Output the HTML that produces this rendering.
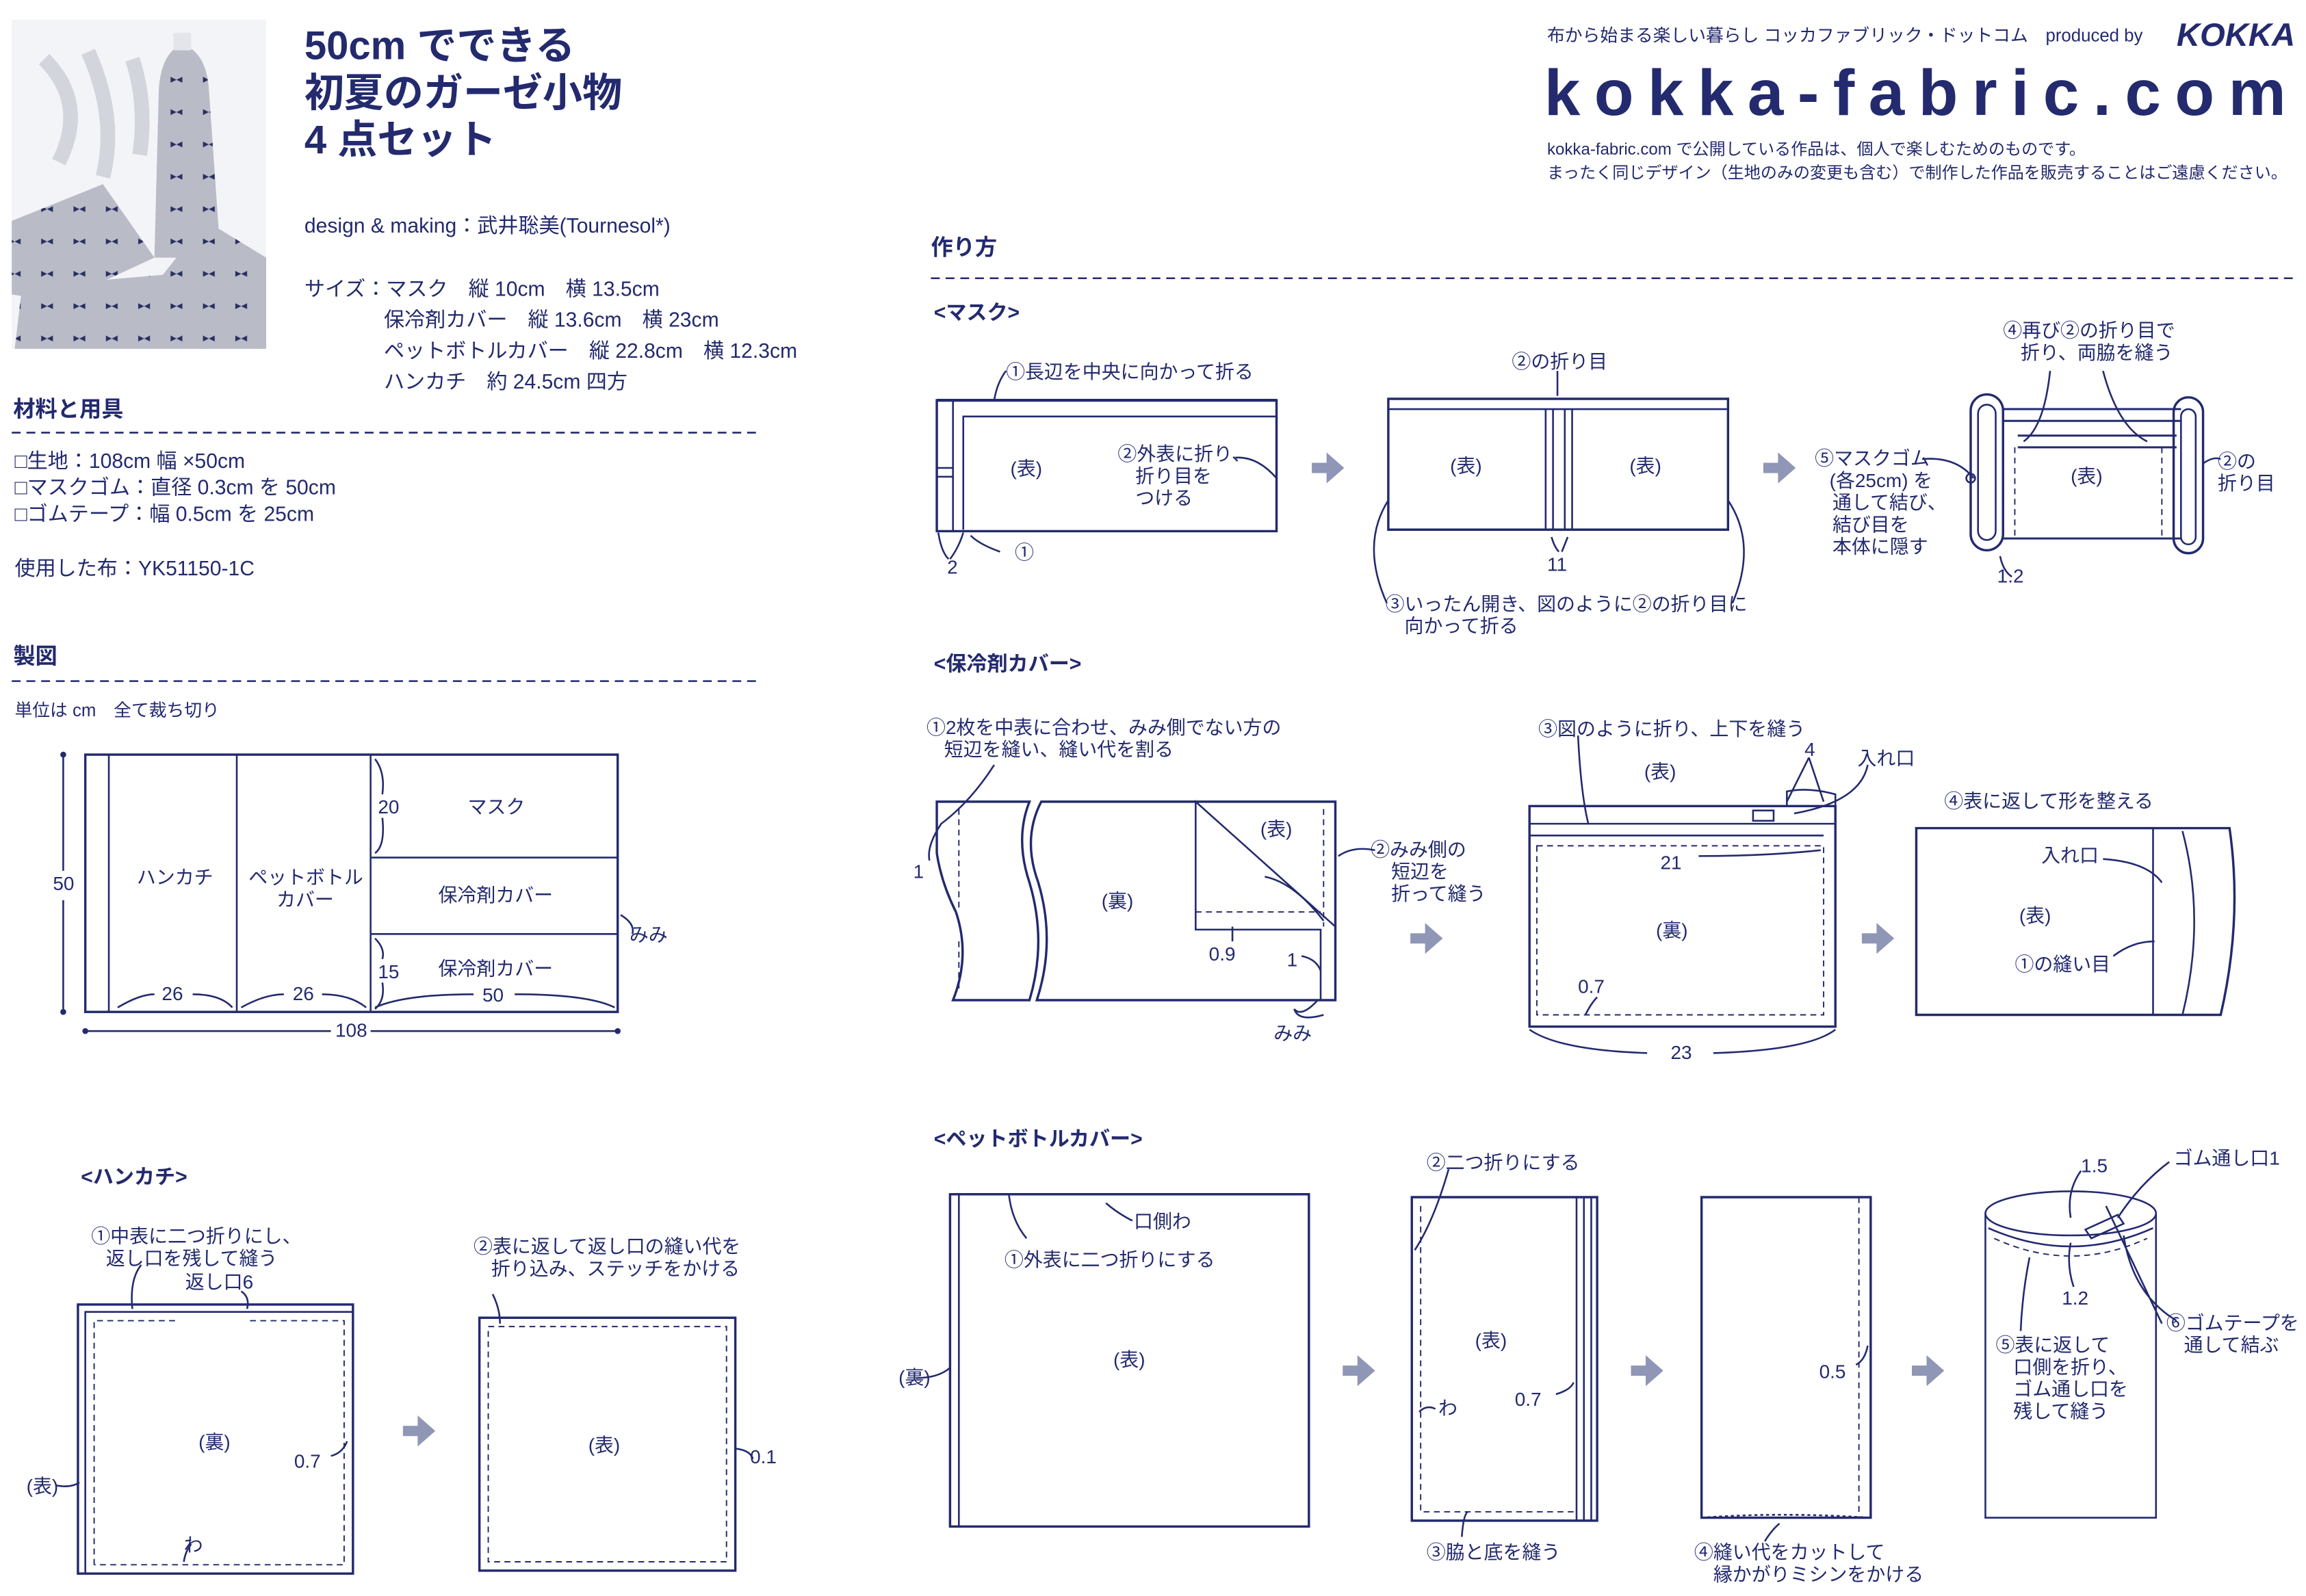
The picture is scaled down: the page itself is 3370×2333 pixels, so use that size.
<!DOCTYPE html>
<html><head><meta charset="utf-8"><style>
html,body{margin:0;padding:0;background:#fff;}
svg{display:block;}
text{font-family:"Liberation Sans","Noto Sans CJK JP",sans-serif;fill:#232a6e;}
.b{font-weight:bold;}
</style></head><body>
<svg width="3370" height="2333" viewBox="0 0 1568 1085" xmlns="http://www.w3.org/2000/svg">
<defs>
<g id="ar"><path d="M-11,-3.5 h10 v-7 l12,10.5 l-12,10.5 v-7 h-10 z" fill="#8f96b6"/></g>
<pattern id="bow" width="22" height="22" patternUnits="userSpaceOnUse"><rect width="22" height="22" fill="#b9bbc6"/><path d="M6 8 l4 2 l-4 2 z M14 8 l-4 2 l4 2 z" fill="#2a2f60"/></pattern>
</defs>
<g stroke="#232a6e" fill="none" stroke-width="1.2">
<!-- photo -->
<rect x="8" y="13" width="173" height="224" fill="#f3f4f7" stroke="none"/>
<path d="M30 40 Q60 70 40 110 M60 35 Q80 80 70 120 M90 40 Q100 70 95 105" stroke="#d3d5dc" stroke-width="10"/>
<path d="M8 150 L70 125 L105 175 L40 205 L8 200 Z" fill="url(#bow)" stroke="none"/>
<path d="M15 195 L130 185 L140 237 L10 237 Z" fill="url(#bow)" stroke="none"/>
<path d="M100 200 L140 150 L181 175 L181 237 L135 237 Z" fill="url(#bow)" stroke="none"/>
<path d="M108 60 Q110 35 124 30 Q140 35 142 60 L150 175 L105 175 Z" fill="url(#bow)" stroke="none"/>
<rect x="118" y="22" width="12" height="12" fill="#e4e5ea" stroke="none"/>
</g>

<!-- Title -->
<text x="207" y="40" font-size="27" class="b">50cm でできる</text>
<text x="207" y="72" font-size="27" class="b">初夏のガーゼ小物</text>
<text x="207" y="104" font-size="27" class="b">4 点セット</text>
<text x="207" y="158" font-size="14">design &amp; making：武井聡美(Tournesol*)</text>
<text x="207" y="201" font-size="14">サイズ：マスク　縦 10cm　横 13.5cm</text>
<text x="261" y="222" font-size="14">保冷剤カバー　縦 13.6cm　横 23cm</text>
<text x="261" y="243" font-size="14">ペットボトルカバー　縦 22.8cm　横 12.3cm</text>
<text x="261" y="264" font-size="14">ハンカチ　約 24.5cm 四方</text>

<text x="9" y="283" font-size="15" class="b">材料と用具</text>
<line x1="8" y1="294" x2="515" y2="294" stroke="#232a6e" stroke-dasharray="6,4" stroke-width="1.2"/>
<text x="10" y="318" font-size="14">□生地：108cm 幅 ×50cm</text>
<text x="10" y="336" font-size="14">□マスクゴム：直径 0.3cm を 50cm</text>
<text x="10" y="354" font-size="14">□ゴムテープ：幅 0.5cm を 25cm</text>
<text x="10" y="391" font-size="14">使用した布：YK51150-1C</text>

<text x="9" y="451" font-size="15" class="b">製図</text>
<line x1="8" y1="463" x2="515" y2="463" stroke="#232a6e" stroke-dasharray="6,4" stroke-width="1.2"/>
<text x="10" y="487" font-size="12">単位は cm　全て裁ち切り</text>

<!-- cutting diagram -->
<g stroke="#232a6e" fill="none" stroke-width="1.2">
<rect x="58" y="513" width="362" height="175" stroke-width="1.6"/>
<line x1="74" y1="513" x2="74" y2="688"/>
<line x1="161" y1="513" x2="161" y2="688"/>
<line x1="252" y1="513" x2="252" y2="688"/>
<line x1="252" y1="583" x2="420" y2="583"/>
<line x1="252" y1="635" x2="420" y2="635"/>
<line x1="43" y1="513" x2="43" y2="592"/><line x1="43" y1="612" x2="43" y2="688"/>
<line x1="58" y1="701" x2="225" y2="701"/><line x1="252" y1="701" x2="420" y2="701"/>
<path d="M80 685 Q95 676 105 676 M131 676 Q150 676 158 685"/>
<path d="M164 685 Q180 676 193 676 M219 676 Q238 676 249 685"/>
<path d="M255 685 Q275 676 322 676 M350 676 Q400 676 418 685"/>
<path d="M255 516 Q262 525 260 540 M260 556 Q262 575 255 580"/>
<path d="M255 638 Q262 645 260 652 M260 668 Q262 680 255 686"/>
<path d="M422 622 Q432 628 430 635"/>
</g>
<g fill="#232a6e"><circle cx="43" cy="513" r="2"/><circle cx="43" cy="688" r="2"/><circle cx="58" cy="701" r="2"/><circle cx="420" cy="701" r="2"/></g>
<text x="36" y="605" font-size="13">50</text>
<text x="228" y="705" font-size="13">108</text>
<text x="93" y="601" font-size="13">ハンカチ</text>
<text x="169" y="601" font-size="13">ペットボトル</text>
<text x="188" y="616" font-size="13">カバー</text>
<text x="318" y="553" font-size="13">マスク</text>
<text x="298" y="613" font-size="13">保冷剤カバー</text>
<text x="298" y="663" font-size="13">保冷剤カバー</text>
<text x="110" y="680" font-size="13">26</text>
<text x="199" y="680" font-size="13">26</text>
<text x="328" y="681" font-size="13">50</text>
<text x="257" y="553" font-size="13">20</text>
<text x="257" y="665" font-size="13">15</text>
<text x="428" y="640" font-size="13">みみ</text>

<!-- Handkerchief -->
<text x="55" y="805" font-size="14" class="b">&lt;ハンカチ&gt;</text>
<text x="62" y="845" font-size="13">①中表に二つ折りにし、</text>
<text x="72" y="860" font-size="13">返し口を残して縫う</text>
<text x="126" y="876" font-size="13">返し口6</text>
<g stroke="#232a6e" fill="none" stroke-width="1.2">
<rect x="53" y="887" width="187" height="183" stroke-width="1.6"/>
<path d="M58 1070 V892 H240" />
<path d="M64 1064 V898 H120 M170 898 H234 V1064 H64" stroke-dasharray="4,3" stroke-width="0.9"/>
<path d="M90 890 Q88 870 96 860 M168 890 Q170 882 164 878"/>
<path d="M225 990 Q233 988 236 980"/>
<path d="M38 1010 Q48 1012 54 1008"/>
<path d="M125 1062 Q126 1055 130 1050"/>
<rect x="326" y="896" width="174" height="172" stroke-width="1.6"/>
<rect x="332" y="902" width="162" height="160" stroke-dasharray="4,3" stroke-width="0.9"/>
<path d="M335 880 Q340 890 340 900 M500 985 Q510 986 512 992"/>
</g>
<text x="135" y="985" font-size="13">(裏)</text>
<text x="200" y="998" font-size="13">0.7</text>
<text x="18" y="1015" font-size="13">(表)</text>
<text x="125" y="1055" font-size="13">わ</text>
<text x="322" y="852" font-size="13">②表に返して返し口の縫い代を</text>
<text x="334" y="867" font-size="13">折り込み、ステッチをかける</text>
<text x="400" y="987" font-size="13">(表)</text>
<text x="510" y="995" font-size="13">0.1</text>
<use href="#ar" x="285" y="973"/>

<!-- right column -->
<text x="633" y="173" font-size="15" class="b">作り方</text>
<line x1="633" y1="189" x2="1560" y2="189" stroke="#232a6e" stroke-dasharray="6,4" stroke-width="1.2"/>

<!-- header right -->
<text x="1052" y="28" font-size="12">布から始まる楽しい暮らし コッカファブリック・ドットコム　produced by</text>
<text x="1480" y="31" font-size="22" class="b" font-style="italic">KOKKA</text>
<text x="1050" y="78" font-size="44" class="b" letter-spacing="9.5" font-family="Liberation Mono">kokka-fabric.com</text>
<text x="1052" y="105" font-size="11.2">kokka-fabric.com で公開している作品は、個人で楽しむためのものです。</text>
<text x="1052" y="121" font-size="11.2">まったく同じデザイン（生地のみの変更も含む）で制作した作品を販売することはご遠慮ください。</text>

<!-- Mask -->
<text x="635" y="217" font-size="14" class="b">&lt;マスク&gt;</text>
<text x="684" y="257" font-size="13">①長辺を中央に向かって折る</text>
<g stroke="#232a6e" fill="none" stroke-width="1.2">
<path d="M637 272 H868 V361 H637 Z" stroke-width="1.6"/>
<path d="M655 360 V283 H868"/>
<path d="M637 272 H868 M637 283" stroke-width="2"/>
<line x1="648" y1="272" x2="648" y2="361"/>
<path d="M637 318 H648 M637 324 H648"/>
<path d="M676 272 Q678 260 684 252"/>
<path d="M840 311 Q855 310 868 325"/>
<path d="M638 362 Q640 375 645 380 M655 362 Q652 372 646 380 M660 364 Q666 370 680 375"/>
<path d="M944 271 H1175 V360 H944 Z" stroke-width="1.6"/>
<path d="M944 278 H1175 M1051 278 V360 M1056 278 V360 M1064 278 V360 M1069 278 V360"/>
<line x1="1059" y1="252" x2="1059" y2="269"/>
<path d="M1055 365 Q1057 372 1060 375 M1066 365 L1062 375"/>
<path d="M944 340 Q925 370 943 410 M1175 340 Q1195 370 1178 410"/>
<rect x="1340" y="268" width="22" height="106" rx="11" stroke-width="1.6"/>
<rect x="1345" y="275" width="12" height="92" rx="6"/>
<rect x="1478" y="270" width="20" height="106" rx="10" stroke-width="1.6"/>
<rect x="1483" y="278" width="10" height="92" rx="5"/>
<path d="M1362 278 H1483 M1362 286 H1483 M1372 296 H1480 M1372 304 H1480 M1362 366 H1483" stroke-width="1.4"/>
<path d="M1370 304 V365 M1470 304 V365" stroke-dasharray="4,3" stroke-width="0.9"/>
<path d="M1394 252 Q1390 290 1376 300 M1430 252 Q1440 290 1460 300"/>
<path d="M1307 312 Q1330 310 1342 325"/>
<circle cx="1340" cy="325" r="3"/>
<path d="M1498 315 Q1505 310 1510 312"/>
<path d="M1360 378 Q1362 388 1368 392"/>
</g>
<text x="687" y="323" font-size="13">(表)</text>
<text x="760" y="313" font-size="13">②外表に折り、</text>
<text x="772" y="328" font-size="13">折り目を</text>
<text x="772" y="343" font-size="13">つける</text>
<text x="644" y="390" font-size="13">2</text>
<text x="690" y="380" font-size="13">①</text>
<use href="#ar" x="903" y="318"/>
<text x="1028" y="250" font-size="13">②の折り目</text>
<text x="986" y="321" font-size="13">(表)</text>
<text x="1108" y="321" font-size="13">(表)</text>
<text x="1052" y="388" font-size="13">11</text>
<text x="942" y="415" font-size="13">③いったん開き、図のように②の折り目に</text>
<text x="955" y="430" font-size="13">向かって折る</text>
<use href="#ar" x="1210" y="318"/>
<text x="1362" y="229" font-size="13">④再び②の折り目で</text>
<text x="1374" y="244" font-size="13">折り、両脇を縫う</text>
<text x="1234" y="316" font-size="13">⑤マスクゴム</text>
<text x="1244" y="331" font-size="13">(各25cm) を</text>
<text x="1246" y="346" font-size="13">通して結び、</text>
<text x="1246" y="361" font-size="13">結び目を</text>
<text x="1246" y="376" font-size="13">本体に隠す</text>
<text x="1408" y="328" font-size="13">(表)</text>
<text x="1508" y="318" font-size="13">②の</text>
<text x="1508" y="333" font-size="13">折り目</text>
<text x="1358" y="396" font-size="13">1.2</text>

<!-- Ice cover -->
<text x="635" y="456" font-size="14" class="b">&lt;保冷剤カバー&gt;</text>
<text x="630" y="499" font-size="13">①2枚を中表に合わせ、みみ側でない方の</text>
<text x="642" y="514" font-size="13">短辺を縫い、縫い代を割る</text>
<g stroke="#232a6e" fill="none" stroke-width="1.2">
<path d="M637 545 H700 Q690 570 700 600 Q712 640 700 680 H648 Q660 650 650 620 Q640 600 637 580 Z" stroke-width="1.6"/>
<path d="M708 545 H908 V680 H705 Q718 640 706 600 Q695 570 708 545 Z" stroke-width="1.6"/>
<path d="M652 550 V620 M652 640 V675" stroke-dasharray="4,3" stroke-width="0.9"/>
<path d="M813 545 L908 630 V680 H898 V632 H813 Z"/>
<path d="M900 550 V630" stroke-dasharray="4,3" stroke-width="0.9"/>
<path d="M813 620 H898" stroke-dasharray="4,3" stroke-width="0.9"/>
<path d="M676 520 Q660 545 640 560 Q630 575 632 585"/>
<path d="M910 582 Q920 575 935 578"/>
<path d="M860 596 Q880 600 900 626"/>
<path d="M885 650 Q895 652 898 660"/>
<path d="M838 630 V640"/>
<path d="M880 686 Q885 692 896 680 M880 686 Q883 695 900 690"/>
<path d="M1040 548 H1248 V698 H1040 Z" stroke-width="1.6"/>
<path d="M1040 560 H1248 M1040 568 H1240 M1248 548 V560"/>
<path d="M1045 575 H1240 V690 H1045 Z" stroke-dasharray="4,3" stroke-width="0.9"/>
<path d="M1215 548 V538 Q1230 535 1248 540 V548"/>
<rect x="1192" y="551" width="14" height="7"/>
<path d="M1073 500 Q1075 540 1080 560 M1270 520 Q1265 545 1220 553 M1230 515 L1215 545 M1230 515 L1240 545"/>
<path d="M1040 700 Q1060 714 1120 716 M1165 716 Q1230 714 1248 700"/>
<path d="M1078 690 Q1082 682 1086 678 M1155 582 Q1200 582 1238 578"/>
<path d="M1303 563 H1516 Q1525 625 1510 690 H1303 Z" stroke-width="1.6"/>
<path d="M1464 563 V690 M1484 565 Q1500 625 1484 690"/>
<path d="M1430 584 Q1460 586 1470 600 M1437 650 Q1450 640 1465 640"/>
</g>
<text x="621" y="597" font-size="13">1</text>
<text x="749" y="617" font-size="13">(裏)</text>
<text x="857" y="568" font-size="13">(表)</text>
<text x="822" y="653" font-size="13">0.9</text>
<text x="875" y="657" font-size="13">1</text>
<text x="866" y="707" font-size="13">みみ</text>
<text x="932" y="582" font-size="13">②みみ側の</text>
<text x="946" y="597" font-size="13">短辺を</text>
<text x="946" y="612" font-size="13">折って縫う</text>
<use href="#ar" x="970" y="638"/>
<text x="1046" y="500" font-size="13">③図のように折り、上下を縫う</text>
<text x="1118" y="529" font-size="13">(表)</text>
<text x="1227" y="514" font-size="13">4</text>
<text x="1263" y="520" font-size="13">入れ口</text>
<text x="1129" y="591" font-size="13">21</text>
<text x="1126" y="637" font-size="13">(裏)</text>
<text x="1073" y="675" font-size="13">0.7</text>
<text x="1136" y="720" font-size="13">23</text>
<use href="#ar" x="1277" y="638"/>
<text x="1322" y="549" font-size="13">④表に返して形を整える</text>
<text x="1388" y="586" font-size="13">入れ口</text>
<text x="1373" y="627" font-size="13">(表)</text>
<text x="1370" y="660" font-size="13">①の縫い目</text>

<!-- PET bottle -->
<text x="635" y="779" font-size="14" class="b">&lt;ペットボトルカバー&gt;</text>
<g stroke="#232a6e" fill="none" stroke-width="1.2">
<rect x="646" y="812" width="244" height="226" stroke-width="1.6"/>
<path d="M652 1038 V812"/>
<path d="M686 812 Q688 830 698 842 M770 830 Q760 825 752 818"/>
<path d="M623 937 Q638 937 646 930"/>
<path d="M960 814 H1086 V1034 H960 Z" stroke-width="1.6"/>
<path d="M1072 814 V1034 M1077 814 V1034 M1082 814 V1034"/>
<path d="M966 820 V1028 H1072" stroke-dasharray="4,3" stroke-width="0.9"/>
<path d="M985 795 Q975 830 962 850 M965 960 Q970 955 976 958 M1058 948 Q1068 945 1070 940 M994 1045 Q995 1030 998 1028"/>
<path d="M1157 814 H1272 V1032 H1157 Z" stroke-width="1.6"/>
<path d="M1264 814 V1032" stroke-dasharray="4,3" stroke-width="0.9"/>
<path d="M1157 1032 Q1210 1028 1272 1032" stroke-dasharray="2,2"/>
<path d="M1262 928 Q1268 925 1270 915 M1200 1048 Q1205 1040 1210 1036"/>
<path d="M1350 825 V1032 H1466 V825"/>
<ellipse cx="1408" cy="825" rx="58" ry="15"/>
<path d="M1352 835 Q1408 860 1464 835"/>
<path d="M1356 842 Q1408 866 1460 842" stroke-dasharray="4,3" stroke-width="0.9"/>
<path d="M1418 836 L1440 826 L1444 832 L1422 842 Z"/>
<path d="M1415 796 Q1405 810 1408 828 M1475 790 Q1455 805 1440 828 M1480 898 Q1450 880 1444 840 M1432 820 L1470 900"/>
<path d="M1408 845 Q1405 860 1410 875 M1380 855 Q1375 880 1374 905"/>
</g>
<text x="771" y="835" font-size="13">口側わ</text>
<text x="683" y="861" font-size="13">①外表に二つ折りにする</text>
<text x="757" y="929" font-size="13">(表)</text>
<text x="611" y="941" font-size="13">(裏)</text>
<use href="#ar" x="924" y="932"/>
<text x="970" y="795" font-size="13">②二つ折りにする</text>
<text x="1003" y="916" font-size="13">(表)</text>
<text x="978" y="962" font-size="13">わ</text>
<text x="1030" y="956" font-size="13">0.7</text>
<text x="970" y="1060" font-size="13">③脇と底を縫う</text>
<use href="#ar" x="1120" y="932"/>
<text x="1237" y="937" font-size="13">0.5</text>
<text x="1152" y="1060" font-size="13">④縫い代をカットして</text>
<text x="1165" y="1075" font-size="13">縁かがりミシンをかける</text>
<use href="#ar" x="1311" y="932"/>
<text x="1415" y="797" font-size="13">1.5</text>
<text x="1478" y="792" font-size="13">ゴム通し口1</text>
<text x="1402" y="887" font-size="13">1.2</text>
<text x="1357" y="919" font-size="13">⑤表に返して</text>
<text x="1369" y="934" font-size="13">口側を折り、</text>
<text x="1369" y="949" font-size="13">ゴム通し口を</text>
<text x="1369" y="964" font-size="13">残して縫う</text>
<text x="1473" y="904" font-size="13">⑥ゴムテープを</text>
<text x="1485" y="919" font-size="13">通して結ぶ</text>
</svg>
</body></html>
